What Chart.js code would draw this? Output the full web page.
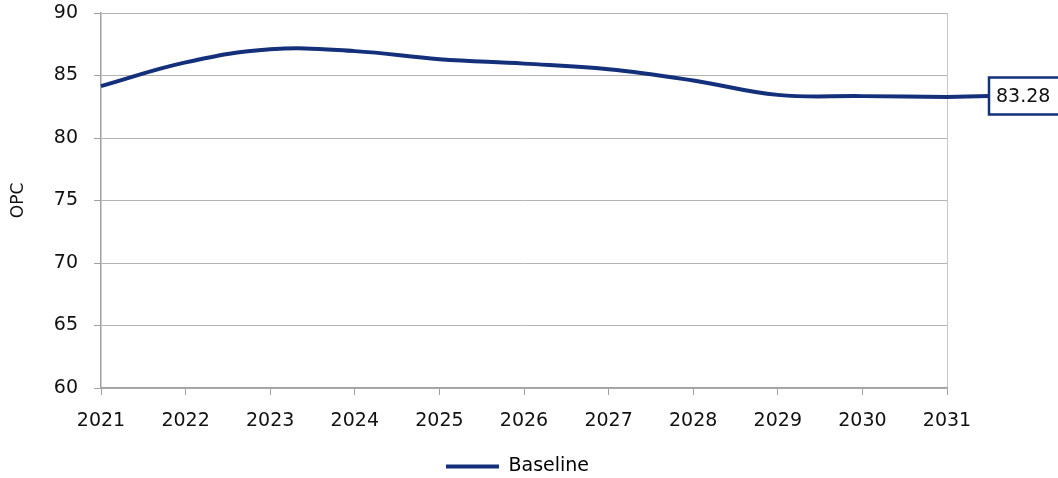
<!DOCTYPE html>
<html>
<head>
<meta charset="utf-8">
<script src="https://cdn.jsdelivr.net/npm/chart.js@4.4.1/dist/chart.umd.min.js"></script>
<style>
  html, body { margin: 0; padding: 0; background: #fff; }
  #wrap { width: 1058px; height: 478px; }
</style>
</head>
<body>
<div id="wrap"><canvas id="chart" width="1058" height="478"></canvas></div>
<script>
// OPC projection, baseline scenario
const years = ['2021', '2022', '2023', '2024', '2025', '2026', '2027', '2028', '2029', '2030', '2031'];
const baseline = [84.15, 86.05, 87.1, 86.95, 86.3, 85.95, 85.5, 84.6, 83.45, 83.35, 83.28];
const yTicks = [60, 65, 70, 75, 80, 85, 90];

const navy = '#14307a';
const font = { family: 'DejaVu Sans', size: 19 };

// boxed value label on the last point, linked by a short leader
const endLabel = {
  id: 'endLabel',
  afterDatasetsDraw(chart) {
    const meta = chart.getDatasetMeta(0);
    const pt = meta.data[meta.data.length - 1];
    const value = baseline[baseline.length - 1];
    const ctx = chart.ctx;
    const bx = pt.x + 42, bw = 72, bh = 37;
    ctx.save();
    ctx.strokeStyle = navy;
    ctx.lineWidth = 4;
    ctx.beginPath();
    ctx.moveTo(pt.x, pt.y);
    ctx.lineTo(bx, pt.y - 1);
    ctx.stroke();
    ctx.fillStyle = '#fff';
    ctx.lineWidth = 2.5;
    ctx.fillRect(bx, pt.y - bh / 2 - 1, bw, bh);
    ctx.strokeRect(bx, pt.y - bh / 2 - 1, bw, bh);
    ctx.fillStyle = '#111';
    ctx.font = '19px "DejaVu Sans"';
    ctx.textBaseline = 'middle';
    ctx.fillText(value.toFixed(2), bx + 7, pt.y);
    ctx.restore();
  }
};

// centre the legend under the whole canvas rather than the plot box
const legendShift = {
  id: 'legendShift',
  afterLayout(chart) {
    chart.legend.left += 44;
    chart.legend.right += 44;
  }
};

new Chart(document.getElementById('chart'), {
  type: 'line',
  data: {
    labels: years,
    datasets: [{
      label: 'Baseline',
      data: baseline,
      borderColor: navy,
      backgroundColor: navy,
      borderWidth: 4,
      pointRadius: 0,
      tension: 0.4,
      clip: false
    }]
  },
  options: {
    responsive: false,
    animation: false,
    layout: { padding: { top: 13, right: 111, left: 0, bottom: -8 } },
    plugins: {
      legend: {
        position: 'bottom',
        labels: {
          color: '#111',
          font: font,
          boxWidth: 53,
          boxHeight: 4,
          padding: 2,
          generateLabels: chart => [{
            text: 'Baseline',
            fillStyle: navy,
            strokeStyle: navy,
            lineWidth: 0,
            datasetIndex: 0
          }]
        }
      },
      tooltip: { enabled: false }
    },
    scales: {
      x: {
        offset: false,
        grid: {
          color: ctx => ctx.index === years.length - 1 ? '#c8c8c8' : 'rgba(0,0,0,0)',
          tickColor: '#a0a0a0',
          tickLength: 7
        },
        border: { color: '#a0a0a0', width: 1.5 },
        ticks: { color: '#111', font: font, padding: 15, maxRotation: 0 },
        afterFit: s => { s.height = 67; }
      },
      y: {
        min: 60,
        max: 90,
        afterBuildTicks: s => { s.ticks = yTicks.map(v => ({ value: v })); },
        grid: { color: '#b4b4b4', tickColor: '#a0a0a0', tickLength: 7 },
        border: { color: '#a0a0a0', width: 1.5 },
        ticks: { color: '#111', font: font, padding: 16 },
        title: { display: true, text: 'OPC', color: '#111', font: { family: 'DejaVu Sans', size: 17 }, padding: { top: 8, bottom: 0 } },
        afterFit: s => {
          s.width = 101;
          s.paddingTop = 0;
          s.paddingBottom = 0;
        }
      }
    }
  },
  plugins: [endLabel, legendShift]
});
</script>
</body>
</html>
